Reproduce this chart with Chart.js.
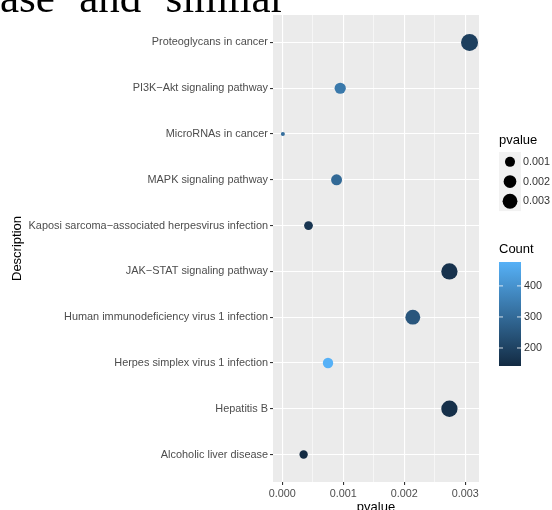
<!DOCTYPE html>
<html>
<head>
<meta charset="utf-8">
<script src="https://cdn.jsdelivr.net/npm/chart.js@4.4.1/dist/chart.umd.min.js"></script>
<style>
  html, body { margin:0; padding:0; background:#fff; overflow:hidden; }
  #wrap { position:relative; width:552px; height:510px; overflow:hidden; }
  #caption { position:absolute; left:0; top:-24px; font-family:"Liberation Serif", serif; font-size:43px; line-height:43px; white-space:pre; word-spacing:-4px; color:#000; }
  canvas { position:absolute; left:0; top:0; }
</style>
</head>
<body>
<div id="wrap">
  <canvas id="myChart" width="552" height="520"></canvas>
  <div id="caption">ase "and" similar</div>
</div>
<script>
// pathways, top to bottom as in the figure
const descriptions = [
    "Proteoglycans in cancer",
    "PI3K\u2212Akt signaling pathway",
    "MicroRNAs in cancer",
    "MAPK signaling pathway",
    "Kaposi sarcoma\u2212associated herpesvirus infection",
    "JAK\u2212STAT signaling pathway",
    "Human immunodeficiency virus 1 infection",
    "Herpes simplex virus 1 infection",
    "Hepatitis B",
    "Alcoholic liver disease"
];
const pvalues = [0.00307, 0.00095, 0.00001, 0.00089, 0.00043, 0.00274, 0.00214, 0.00075, 0.00274, 0.00035];
const counts  = [192, 336, 310, 296, 170, 160, 250, 477, 155, 142];

const xTicks = [0, 0.0005, 0.001, 0.0015, 0.002, 0.0025, 0.003];
const sizeBreaks = [0.001, 0.002, 0.003];
const countBreaks = [200, 300, 400];

const FONT = '"Liberation Sans", Arial, sans-serif';
Chart.defaults.font.family = FONT;

const pMin = Math.min(...pvalues), pMax = Math.max(...pvalues);
const cMin = Math.min(...counts), cMax = Math.max(...counts);
const lowCol = [19, 43, 67], highCol = [86, 177, 247];

// colour for a Count value (ggplot default gradient)
function countColor(c){
    const t = Math.max(0, Math.min(1, (c - cMin) / (cMax - cMin)));
    const rgb = lowCol.map((v, k) => Math.round(v + (highCol[k] - v) * t));
    return 'rgb(' + rgb.join(',') + ')';
}

// point radius for a pvalue (area scale)
function pointSize(p){
    const t = Math.sqrt(Math.max(0, (p - pMin) / (pMax - pMin)));
    return 2 + t * 6.5;
}

function isMajor(v){
    return Math.abs(v * 1000 - Math.round(v * 1000)) < 1e-6;
}

// grey panel behind the grid
const panelBg = {
    id: 'panelBg',
    beforeDraw(chart){
        const a = chart.chartArea, c = chart.ctx;
        c.save();
        c.fillStyle = '#ebebeb';
        c.fillRect(a.left, a.top, a.right - a.left, a.bottom - a.top);
        c.restore();
    }
};

// size legend + colour bar on the right
const sideLegends = {
    id: 'sideLegends',
    afterDraw(chart){
        const c = chart.ctx;
        c.save();
        c.textBaseline = 'middle';
        c.textAlign = 'left';

        // pvalue
        c.fillStyle = '#000';
        c.font = '13px ' + FONT;
        c.fillText('pvalue', 499, 140);
        const keyTop = 152, keyH = 19.7;
        c.fillStyle = '#f2f2f2';
        c.fillRect(499, keyTop, 22, keyH * sizeBreaks.length);
        sizeBreaks.forEach((b, i) => {
            const cy = keyTop + keyH * (i + 0.5);
            c.fillStyle = '#000';
            c.beginPath();
            c.arc(510, cy, pointSize(b) * 0.88, 0, Math.PI * 2);
            c.fill();
            c.fillStyle = '#333';
            c.font = '10.8px ' + FONT;
            c.fillText(b.toFixed(3), 523, cy);
        });

        // Count
        c.fillStyle = '#000';
        c.font = '13px ' + FONT;
        c.fillText('Count', 499, 249);
        const barTop = 262, barBot = 366, barL = 499, barW = 22;
        const g = c.createLinearGradient(0, barBot, 0, barTop);
        g.addColorStop(0, countColor(cMin));
        g.addColorStop(1, countColor(cMax));
        c.fillStyle = g;
        c.fillRect(barL, barTop, barW, barBot - barTop);
        countBreaks.forEach(b => {
            const y = barBot - (b - cMin) / (cMax - cMin) * (barBot - barTop);
            c.strokeStyle = 'rgba(255,255,255,0.8)';
            c.lineWidth = 1;
            c.beginPath();
            c.moveTo(barL, y); c.lineTo(barL + 4, y);
            c.moveTo(barL + barW - 4, y); c.lineTo(barL + barW, y);
            c.stroke();
            c.fillStyle = '#333';
            c.font = '10.8px ' + FONT;
            c.fillText(String(b), 524, y);
        });
        c.restore();
    }
};

const n = descriptions.length;
const canvas = document.getElementById('myChart');
const ctx = canvas.getContext('2d');

var myChart = new Chart(ctx, {
    type: 'scatter',
    data: {
        datasets: [{
            data: descriptions.map((d, i) => ({x: pvalues[i], y: n - i})),
            pointRadius: c => pointSize(pvalues[c.dataIndex]),
            pointHoverRadius: c => pointSize(pvalues[c.dataIndex]),
            backgroundColor: c => countColor(counts[c.dataIndex]),
            borderWidth: 0
        }]
    },
    options: {
        responsive: false,
        animation: false,
        layout: { padding: { top: 15, right: 73, left: 0, bottom: 0 } },
        plugins: {
            legend: { display: false },
            tooltip: { enabled: false }
        },
        scales: {
            x: {
                type: 'linear',
                min: -0.000152,
                max: 0.003225,
                afterBuildTicks: s => { s.ticks = xTicks.map(v => ({value: v})); },
                afterFit: s => { s.height = 38; },
                ticks: {
                    callback: v => isMajor(v) ? v.toFixed(3) : '',
                    color: '#4d4d4d',
                    font: { size: 10.8 },
                    padding: 3,
                    maxRotation: 0,
                    autoSkip: false
                },
                grid: {
                    color: '#ffffff',
                    lineWidth: c => (c.tick && isMajor(c.tick.value)) ? 1.1 : 0.55,
                    tickColor: c => (c.tick && isMajor(c.tick.value)) ? '#333333' : 'rgba(0,0,0,0)',
                    tickLength: 3
                },
                border: { display: false },
                title: { display: true, text: 'pvalue', color: '#000', font: { size: 13 }, padding: { top: 0, bottom: 5 } }
            },
            y: {
                type: 'linear',
                min: 0.4,
                max: 10.6,
                afterBuildTicks: s => { s.ticks = descriptions.map((d, i) => ({value: i + 1})); },
                afterFit: s => { s.width = 273; },
                ticks: {
                    callback: v => descriptions[n - v],
                    color: '#4d4d4d',
                    font: { size: 10.9 },
                    padding: 2,
                    autoSkip: false
                },
                grid: {
                    color: '#ffffff',
                    lineWidth: 1.1,
                    tickColor: '#333333',
                    tickLength: 3
                },
                border: { display: false },
                title: { display: true, text: 'Description', color: '#000', font: { size: 13 }, padding: { top: 10, bottom: 0 } }
            }
        }
    },
    plugins: [panelBg, sideLegends]
});
</script>
</body>
</html>
